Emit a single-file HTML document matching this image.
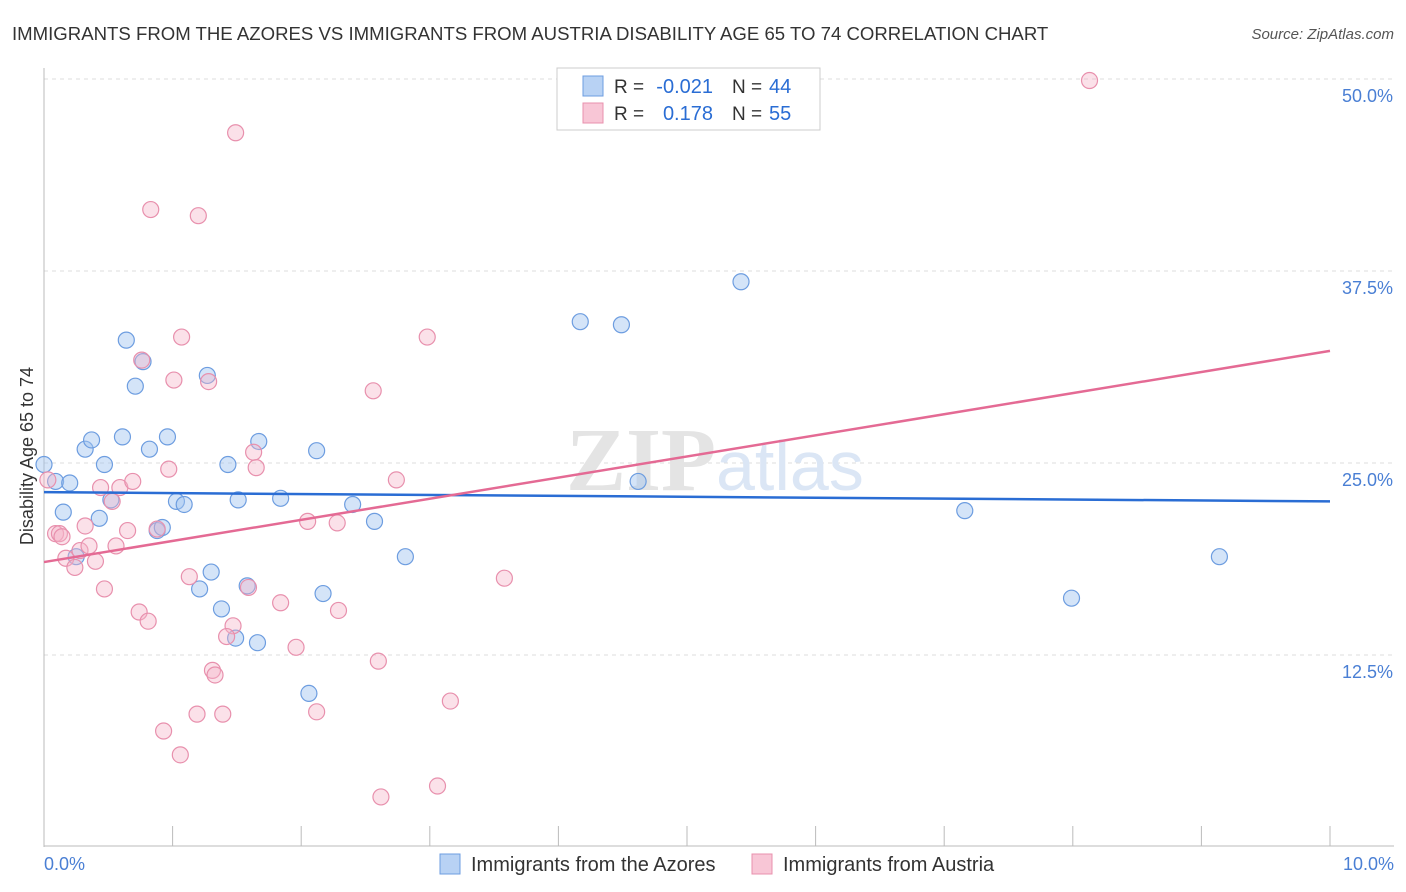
<!DOCTYPE html>
<html><head><meta charset="utf-8"><style>
body{margin:0;background:#fff;font-family:"Liberation Sans",sans-serif;}
#wrap{position:relative;width:1406px;height:892px;overflow:hidden}
</style></head><body><div id="wrap">
<svg id="svg" width="1406" height="892" xmlns="http://www.w3.org/2000/svg"></svg>
</div>
<script>
const yTicks=[12.5,25,37.5,50];
const yTickLabels=["12.5%","25.0%","37.5%","50.0%"];
const blueX=[0,0.09,0.2,0.15,0.32,0.37,0.47,0.43,0.52,0.25,0.64,0.71,0.77,0.61,0.82,0.96,0.88,0.92,1.03,1.09,1.27,1.43,1.51,1.67,1.84,2.12,2.4,2.57,2.81,1.3,1.21,1.38,1.58,1.49,1.66,2.17,2.06,4.17,4.49,5.42,4.62,7.16,7.99,9.14];
const blueY=[24.9,23.8,23.7,21.8,25.9,26.5,24.9,21.4,22.6,18.9,33.0,30.0,31.6,26.7,25.9,26.7,20.6,20.8,22.5,22.3,30.7,24.9,22.6,26.4,22.7,25.8,22.3,21.2,18.9,17.9,16.8,15.5,17.0,13.6,13.3,16.5,10.0,34.2,34.0,36.8,23.8,21.9,16.2,18.9];
const pinkX=[8.13,1.49,0.83,1.2,1.07,0.76,1.01,1.28,2.98,2.56,0.03,0.09,0.12,0.17,0.24,0.28,0.35,0.4,0.32,0.44,0.53,0.59,0.69,0.65,0.56,0.47,0.74,0.81,0.88,0.97,1.13,1.63,1.65,1.59,1.47,1.42,1.84,1.96,2.05,2.28,2.29,2.74,3.58,2.6,1.31,1.33,1.19,1.39,2.12,3.16,0.93,1.06,2.62,3.06,0.14];
const pinkY=[49.9,46.5,41.5,41.1,33.2,31.7,30.4,30.3,33.2,29.7,23.9,20.4,20.4,18.8,18.2,19.3,19.6,18.6,20.9,23.4,22.5,23.4,23.8,20.6,19.6,16.8,15.3,14.7,20.7,24.6,17.6,25.7,24.7,16.9,14.4,13.7,15.9,13.0,21.2,21.1,15.4,23.9,17.5,12.1,11.5,11.2,8.65,8.65,8.8,9.5,7.55,6.0,3.26,3.97,20.2];
const blueTrend=[23.1,22.5];
const pinkTrend=[18.55,32.3];
const X0=44,X1=1330,Y0=847,PY=15.36;
const sx=v=>X0+(X1-X0)*v/10, sy=v=>Y0-v*PY;
const svg=document.getElementById('svg');const NS='http://www.w3.org/2000/svg';
function mk(t,a,txt){const e=document.createElementNS(NS,t);for(const k in a)e.setAttribute(k,a[k]);if(txt!=null)e.textContent=txt;svg.appendChild(e);return e;}
let e;
e=mk('text',{x:12,y:40,'font-size':18.6,fill:'#333'},'IMMIGRANTS FROM THE AZORES VS IMMIGRANTS FROM AUSTRIA DISABILITY AGE 65 TO 74 CORRELATION CHART');


e=mk('text',{x:1394,y:39,'font-size':15,fill:'#555','font-style':'italic','text-anchor':'end'},'Source: ZipAtlas.com');


yTicks.forEach((t,i)=>{
 e=mk('line',{x1:X0,x2:1394,y1:sy(t),y2:sy(t),stroke:'#ddd','stroke-dasharray':'4,4'});
 
 
 e=mk('text',{x:1393,y:sy(t)+23,'font-size':18,fill:'#4a7fd4','text-anchor':'end'},yTickLabels[i]);
 
 
});
e=mk('line',{x1:X0,x2:X0,y1:68,y2:847,stroke:'#bbb'});


e=mk('line',{x1:X0,x2:1394,y1:846,y2:846,stroke:'#bbb'});


for(let i=1;i<=10;i++){e=mk('line',{x1:sx(i),x2:sx(i),y1:826,y2:846,stroke:'#bbb'});
 
 }
e=mk('text',{x:44,y:870,'font-size':18,fill:'#4a7fd4'},'0.0%');


e=mk('text',{x:1394,y:870,'font-size':18,fill:'#4a7fd4','text-anchor':'end'},'10.0%');


e=mk('text',{x:33,y:456,'font-size':18,fill:'#333','text-anchor':'middle',transform:'rotate(-90 33 456)'},'Disability Age 65 to 74');


e=mk('text',{x:716,y:490,'font-size':90,fill:'#e4e4e4','text-anchor':'end','font-family':'Liberation Serif','font-weight':'bold'},'ZIP');


e=mk('text',{x:716,y:490,'font-size':70,fill:'#dbe6f5'},'atlas');


blueX.forEach((v,i)=>{e=mk('circle',{cx:sx(v),cy:sy(blueY[i]),r:8,fill:'rgba(160,195,240,0.45)',stroke:'#6d9de0','stroke-width':1.2});
 
 });
pinkX.forEach((v,i)=>{e=mk('circle',{cx:sx(v),cy:sy(pinkY[i]),r:8,fill:'rgba(245,180,200,0.4)',stroke:'#e890ad','stroke-width':1.2});
 
 });
e=mk('line',{x1:sx(0),x2:sx(10),y1:sy(blueTrend[0]),y2:sy(blueTrend[1]),stroke:'#2a6dd4','stroke-width':2.5});


e=mk('line',{x1:sx(0),x2:sx(10),y1:sy(pinkTrend[0]),y2:sy(pinkTrend[1]),stroke:'#e46a94','stroke-width':2.5});


e=mk('rect',{x:557,y:68,width:263,height:62,fill:'#fff',stroke:'#ccc'});


[[0,'#b8d2f4','#6d9de0','-0.021','44'],[1,'#f8c6d6','#e890ad','0.178','55']].forEach(r=>{
 const y=86+r[0]*27;
 e=mk('rect',{x:583,y:y-10,width:20,height:20,fill:r[1],stroke:r[2]});
 
 
 e=mk('text',{x:614,y:y+7,'font-size':19,fill:'#333'},'R = ');
 
 
 e=mk('text',{x:713,y:y+7,'font-size':20,fill:'#2a6dd4','text-anchor':'end'},r[3]);
 
 
 e=mk('text',{x:732,y:y+7,'font-size':19,fill:'#333'},'N = ');
 
 
 e=mk('text',{x:769,y:y+7,'font-size':20,fill:'#2a6dd4'},r[4]);
 
 
});
[[440,'#b8d2f4','#6d9de0','Immigrants from the Azores'],[752,'#f8c6d6','#e890ad','Immigrants from Austria']].forEach(l=>{
 e=mk('rect',{x:l[0],y:854,width:20,height:20,fill:l[1],stroke:l[2]});
 
 
 e=mk('text',{x:l[0]+31,y:871,'font-size':20,fill:'#333'},l[3]);
 
 
});
</script></body></html>
